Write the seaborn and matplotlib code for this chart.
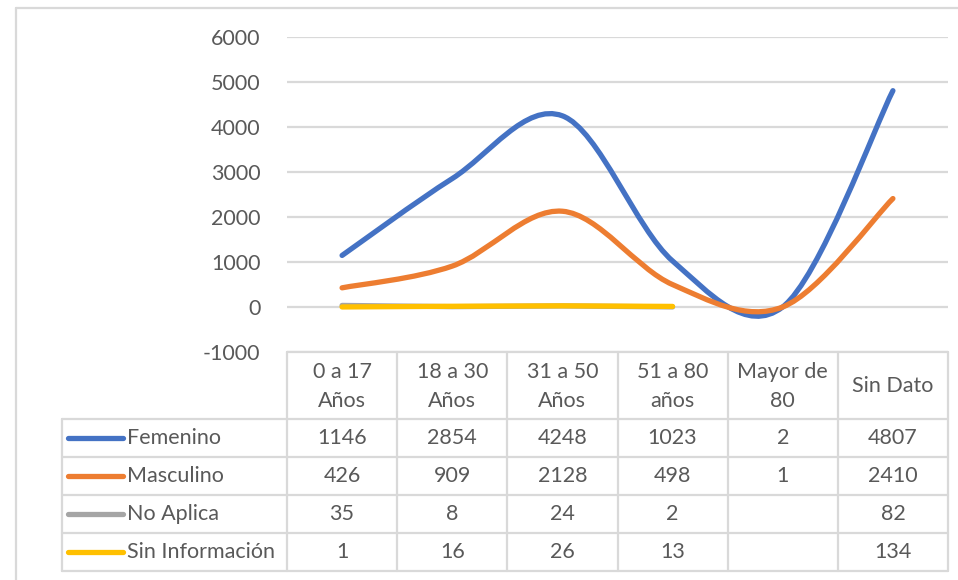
import numpy as np
import matplotlib
matplotlib.use("Agg")
import matplotlib.pyplot as plt
import matplotlib.transforms as mtransforms
from matplotlib.path import Path
from matplotlib.patches import PathPatch
from matplotlib.lines import Line2D
import seaborn as sns

# ---- data ----
categories = ["0 a 17\nAños", "18 a 30\nAños", "31 a 50\nAños",
              "51 a 80\naños", "Mayor de\n80", "Sin Dato"]
series_names = ["Femenino", "Masculino", "No Aplica", "Sin Información"]
femenino = [1146, 2854, 4248, 1023, 2, 4807]
masculino = [426, 909, 2128, 498, 1, 2410]
no_aplica = [35, 8, 24, 2, None, 82]
sin_informacion = [1, 16, 26, 13, None, 134]
y_ticks = [-1000, 0, 1000, 2000, 3000, 4000, 5000, 6000]

series_values = [femenino, masculino, no_aplica, sin_informacion]
colors = ["#4472C4", "#ED7D31", "#A5A5A5", "#FFC000"]
smoothed = [True, True, False, False]

GRID = "#D9D9D9"
TXT = "#595959"
FS = 15.5
LW = 3.8

sns.set_theme(style="white")
plt.rcParams["font.family"] = ["Lato", "DejaVu Sans"]

W, H = 958, 580
fig = plt.figure(figsize=(W / 100, H / 100), dpi=100)
fig.patch.set_facecolor("white")

# plot area (pixel layout converted to figure fractions)
ax_l, ax_r, ax_t, ax_b = 287, 948, 37, 352
ax = fig.add_axes([ax_l / W, 1 - ax_b / H, (ax_r - ax_l) / W, (ax_b - ax_t) / H])
ax.set_facecolor("none")
ax.set_xlim(-0.5, len(categories) - 0.5)
ax.set_ylim(min(y_ticks), max(y_ticks))
ax.set_yticks(y_ticks)
ax.set_yticklabels([str(t) for t in y_ticks])
ax.set_xticks([])
ax.yaxis.grid(True, color=GRID, lw=1.6)
ax.set_axisbelow(True)
for s in ax.spines.values():
    s.set_visible(False)
ax.tick_params(axis="y", length=0, pad=19, labelsize=FS, labelcolor=TXT)

x_pos = np.arange(len(categories))


def smooth_path(xs, ys):
    """Cubic Bezier path through the points (Catmull-Rom style control points)."""
    pts = np.column_stack([xs, ys]).astype(float)
    n = len(pts)
    verts = [pts[0]]
    codes = [Path.MOVETO]
    for i in range(n - 1):
        p_prev = pts[i - 1] if i > 0 else pts[i]
        p_next2 = pts[i + 2] if i + 2 < n else pts[i + 1]
        c1 = pts[i] + (pts[i + 1] - p_prev) / 6.0
        c2 = pts[i + 1] - (p_next2 - pts[i]) / 6.0
        verts += [c1, c2, pts[i + 1]]
        codes += [Path.CURVE4] * 3
    return Path(np.array(verts), codes)


def runs(values):
    """Contiguous stretches of non-missing values."""
    out, cur = [], []
    for i, v in enumerate(values):
        if v is None:
            if cur:
                out.append(cur)
            cur = []
        else:
            cur.append(i)
    if cur:
        out.append(cur)
    return out


for vals, col, smooth in zip(series_values, colors, smoothed):
    for idx in runs(vals):
        if len(idx) < 2:
            continue
        xs = x_pos[idx]
        ys = [vals[i] for i in idx]
        if smooth:
            patch = PathPatch(smooth_path(xs, ys), facecolor="none", edgecolor=col,
                              lw=LW, capstyle="round", joinstyle="round", zorder=3)
            ax.add_patch(patch)
        else:
            sns.lineplot(x=xs, y=ys, ax=ax, color=col, lw=LW,
                         solid_capstyle="round", zorder=3, sort=False)

# ---- data table ----
pix = mtransforms.Affine2D().scale(1 / W, -1 / H).translate(0, 1) + fig.transFigure
colx = mtransforms.blended_transform_factory(ax.transData, pix)


def hline(x0, x1, y, trans=pix):
    fig.add_artist(Line2D([x0, x1], [y, y], transform=trans, color=GRID, lw=1.6))


def vline(x, y0, y1, trans=pix):
    fig.add_artist(Line2D([x, x], [y0, y1], transform=trans, color=GRID, lw=1.6))


head_top, head_bot = 352, 419
row_h = 38
row_tops = [head_bot + k * row_h for k in range(len(series_names) + 1)]
table_left = 62

# column borders (in data x, so they follow the category positions)
for k in range(len(categories) + 1):
    vline(k - 0.5, head_top, row_tops[-1], trans=colx)
hline(-0.5, len(categories) - 0.5, head_top, trans=colx)
for y in row_tops:
    hline(table_left, ax_r, y)
vline(table_left, row_tops[0], row_tops[-1])

# header cells
for i, cat in enumerate(categories):
    fig.text(i, (head_top + head_bot) / 2 + 1, cat, transform=colx, ha="center",
             va="center", fontsize=FS, color=TXT, linespacing=1.6)

# series rows
for r, (name, vals, col) in enumerate(zip(series_names, series_values, colors)):
    yc = row_tops[r] + row_h / 2
    fig.add_artist(Line2D([68, 123], [yc, yc], transform=pix, color=col, lw=LW,
                          solid_capstyle="round"))
    fig.text(127, yc, name, transform=pix, ha="left", va="center",
             fontsize=FS, color=TXT)
    for i, v in enumerate(vals):
        if v is None:
            continue
        fig.text(i, yc, str(v), transform=colx, ha="center", va="center",
                 fontsize=FS, color=TXT)

# chart area frame
fig.add_artist(Line2D([16, W + 5], [8, 8], transform=pix, color=GRID, lw=1.6))
fig.add_artist(Line2D([16, 16], [8, H + 5], transform=pix, color=GRID, lw=1.6))

fig.savefig("out.png", dpi=100, facecolor="white")
